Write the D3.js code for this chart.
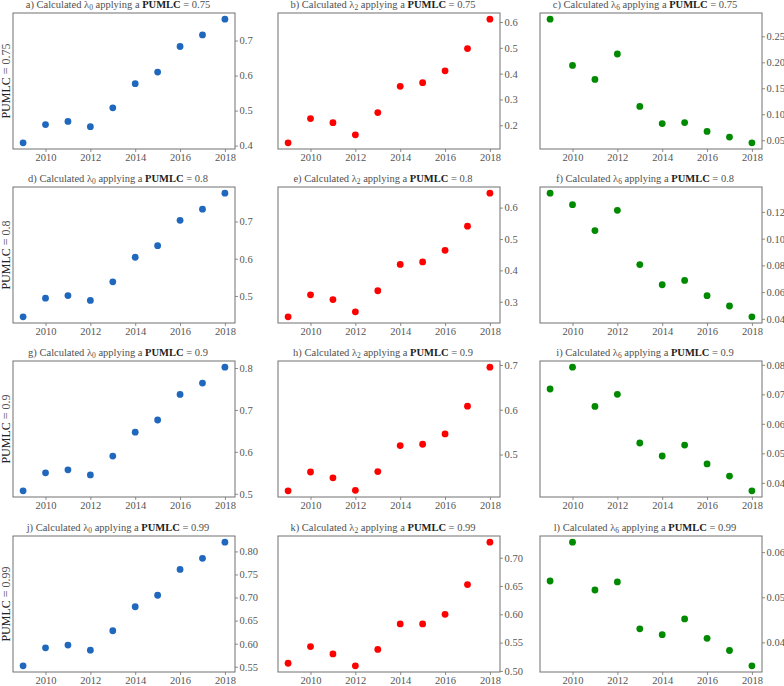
<!DOCTYPE html>
<html><head><meta charset="utf-8">
<script src="https://cdn.jsdelivr.net/npm/d3@7"></script>
<style>body{margin:0;background:#fff}svg{display:block}text{font-family:"Liberation Serif","DejaVu Serif",serif}</style>
</head><body><svg id="c" width="784" height="686"></svg>
<script>
const years = [2009, 2010, 2011, 2012, 2013, 2014, 2015, 2016, 2017, 2018];
const xTicks = [2010, 2012, 2014, 2016, 2018];
const pumlcLevels = ["0.75", "0.8", "0.9", "0.99"];
const lambdaIdx = ["0", "2", "6"];
const panelLetters = ["a","b","c","d","e","f","g","h","i","j","k","l"];
const seriesColors = ["#2068bd", "#ff0000", "#008a00"];

// lambda0
const l0_075 = [0.408, 0.460, 0.469, 0.454, 0.508, 0.577, 0.610, 0.683, 0.716, 0.761];
const l0_080 = [0.444, 0.494, 0.501, 0.488, 0.538, 0.604, 0.635, 0.703, 0.733, 0.776];
const l0_090 = [0.507, 0.550, 0.557, 0.545, 0.590, 0.647, 0.676, 0.737, 0.764, 0.802];
const l0_099 = [0.552, 0.591, 0.597, 0.586, 0.628, 0.680, 0.705, 0.761, 0.785, 0.820];
// lambda2
const l2_075 = [0.132, 0.226, 0.210, 0.163, 0.249, 0.351, 0.365, 0.411, 0.497, 0.611];
const l2_080 = [0.252, 0.322, 0.307, 0.268, 0.335, 0.419, 0.427, 0.464, 0.541, 0.646];
const l2_090 = [0.419, 0.461, 0.448, 0.420, 0.462, 0.520, 0.523, 0.546, 0.608, 0.695];
const l2_099 = [0.5135, 0.543, 0.530, 0.509, 0.538, 0.583, 0.583, 0.600, 0.6526, 0.7275];
// lambda6
const l6_075 = [0.283, 0.194, 0.167, 0.216, 0.115, 0.082, 0.084, 0.067, 0.056, 0.045];
const l6_080 = [0.134, 0.1254, 0.106, 0.1212, 0.0806, 0.0655, 0.0687, 0.0573, 0.0496, 0.0415];
const l6_090 = [0.0718, 0.0792, 0.0659, 0.0700, 0.0535, 0.0491, 0.0528, 0.0464, 0.0423, 0.0373];
const l6_099 = [0.0536, 0.0622, 0.0516, 0.0534, 0.0430, 0.0417, 0.0452, 0.0409, 0.0382, 0.0348];

// y tick labels per panel
const yt_a = ["0.4","0.5","0.6","0.7"];
const yt_b = ["0.2","0.3","0.4","0.5","0.6"];
const yt_c = ["0.05","0.10","0.15","0.20","0.25"];
const yt_d = ["0.5","0.6","0.7"];
const yt_e = ["0.3","0.4","0.5","0.6"];
const yt_f = ["0.04","0.06","0.08","0.10","0.12"];
const yt_g = ["0.5","0.6","0.7","0.8"];
const yt_h = ["0.5","0.6","0.7"];
const yt_i = ["0.04","0.05","0.06","0.07","0.08"];
const yt_j = ["0.55","0.60","0.65","0.70","0.75","0.80"];
const yt_k = ["0.50","0.55","0.60","0.65","0.70"];
const yt_l = ["0.04","0.05","0.06"];

const grid = [
  [[l0_075, yt_a], [l2_075, yt_b], [l6_075, yt_c]],
  [[l0_080, yt_d], [l2_080, yt_e], [l6_080, yt_f]],
  [[l0_090, yt_g], [l2_090, yt_h], [l6_090, yt_i]],
  [[l0_099, yt_j], [l2_099, yt_k], [l6_099, yt_l]]
];

const colLeft = [13, 278, 540];
const rowTop = [13, 187, 361, 536];
const W = 222, H = 136;
const spine = "#707070", tickCol = "#555";

const svg = d3.select("#c");

function padDomain(ext){ const p = (ext[1]-ext[0])*0.05; return [ext[0]-p, ext[1]+p]; }

grid.forEach((row, r) => {
  row.forEach(([vals, yt], c) => {
    const g = svg.append("g").attr("transform", `translate(${colLeft[c]},${rowTop[r]})`);
    const x = d3.scaleLinear().domain(padDomain(d3.extent(years))).range([0, W]);
    const y = d3.scaleLinear().domain(padDomain(d3.extent(vals))).range([H, 0]);

    const xa = g.append("g").attr("transform", `translate(0,${H})`)
      .call(d3.axisBottom(x).tickValues(xTicks).tickFormat(d3.format("d")).tickSize(3).tickPadding(2));
    const ya = g.append("g").attr("transform", `translate(${W},0)`)
      .call(d3.axisRight(y).tickValues(yt.map(Number)).tickFormat((d,i)=>yt[i]).tickSize(3).tickPadding(1.5));
    [xa, ya].forEach(a => {
      a.select(".domain").remove();
      a.selectAll(".tick line").attr("stroke", spine).attr("stroke-width", 0.8);
      a.selectAll(".tick text").attr("fill", tickCol).style("font-size", "10.5px").style("font-family", '"Liberation Serif",serif');
    });

    g.append("rect").attr("x", 0).attr("y", 0).attr("width", W).attr("height", H)
      .attr("fill", "none").attr("stroke", spine).attr("stroke-width", 1);

    g.selectAll("circle").data(vals).join("circle")
      .attr("cx", (d,i) => x(years[i])).attr("cy", d => y(d)).attr("r", 3.4)
      .attr("fill", seriesColors[c]);

    const t = g.append("text").attr("x", W/2 - 6).attr("y", -5.5).attr("text-anchor", "middle")
      .style("font-size", "10.5px").attr("fill", "#505050");
    t.append("tspan").text(`${panelLetters[r*3+c]}) Calculated λ`);
    t.append("tspan").text(lambdaIdx[c]).style("font-size", "7.5px").attr("dy", 2.5);
    t.append("tspan").text(" applying a ").attr("dy", -2.5);
    t.append("tspan").text("PUMLC").attr("font-weight", "bold").attr("fill", "#222");
    t.append("tspan").text(` = ${pumlcLevels[r]}`);

    if (c === 0) {
      const yl = g.append("text").attr("transform", `translate(-3,${H/2}) rotate(-90)`)
        .attr("text-anchor", "middle").style("font-size", "12px").attr("fill", "#555");
      yl.append("tspan").text("PUMLC").attr("fill", "#222");
      yl.append("tspan").text(` = ${pumlcLevels[r]}`);
    }
  });
});
</script></body></html>
